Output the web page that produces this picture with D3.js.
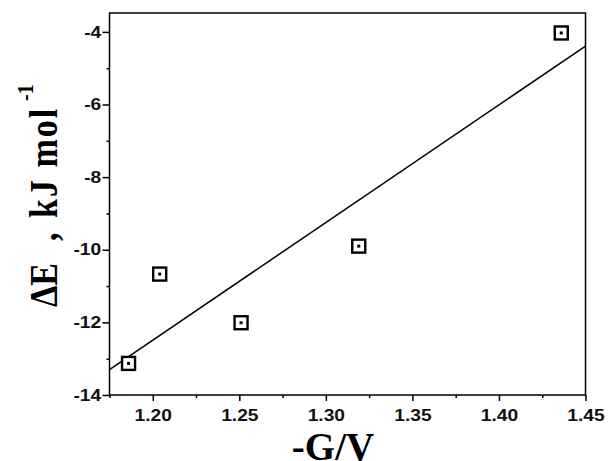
<!DOCTYPE html>
<html>
  <head>
    <meta charset="utf-8">
    <title>Energy vs potential</title>
    <script src="https://d3js.org/d3.v7.min.js"></script>
    <style>
      body { margin: 0; background-color: #fff; }
      .tick text { font-family: "Liberation Sans", Arial, sans-serif; font-weight: bold; }
      .domain { display: none; }
    </style>
  </head>
  <body>
    <div id="my_dataviz"></div>
    <script>
      // measured points
      var potential = [1.186, 1.204, 1.251, 1.319, 1.436];
      var energy = [-13.13, -10.67, -12.01, -9.90, -4.03];

      // straight fit line, end points
      var fitX = [1.175, 1.45];
      var fitY = [-13.30, -4.39];

      var xTicks = [1.20, 1.25, 1.30, 1.35, 1.40, 1.45];
      var xMinor = [1.175, 1.225, 1.275, 1.325, 1.375, 1.425];
      var yTicks = [-4, -6, -8, -10, -12, -14];
      var yMinor = [-5, -7, -9, -11, -13];

      var W = 608, H = 461;
      var plot = {left: 109.5, right: 585.5, top: 13, bottom: 395};
      var sx = 1.2; // labels in the source look a bit stretched sideways

      var svg = d3.select("#my_dataviz")
        .append("svg")
          .attr("width", W)
          .attr("height", H);

      var x = d3.scaleLinear()
        .domain([1.175, 1.45])
        .range([plot.left, plot.right]);

      var y = d3.scaleLinear()
        .domain([-14, -3.48])
        .range([plot.bottom, plot.top]);

      // minor ticks
      svg.append("g")
        .attr("transform", "translate(0," + plot.bottom + ")")
        .call(d3.axisBottom(x).tickValues(xMinor).tickSize(3).tickFormat(""))
        .selectAll("line").attr("stroke-width", 1.5);
      svg.append("g")
        .attr("transform", "translate(" + plot.left + ",0)")
        .call(d3.axisLeft(y).tickValues(yMinor).tickSize(3).tickFormat(""))
        .selectAll("line").attr("stroke-width", 1.5);

      // major ticks
      var xAxis = svg.append("g")
        .attr("transform", "translate(0," + plot.bottom + ")")
        .call(d3.axisBottom(x).tickValues(xTicks).tickSize(6).tickPadding(9).tickFormat(d3.format(".2f")));
      xAxis.selectAll("line").attr("stroke-width", 1.5);
      xAxis.selectAll("text")
        .attr("font-size", 16)
        .attr("fill", "#111")
        .attr("transform", "scale(" + sx + ",1)");

      var yAxis = svg.append("g")
        .attr("transform", "translate(" + plot.left + ",0)")
        .call(d3.axisLeft(y).tickValues(yTicks).tickSize(7).tickFormat(function(d) { return String(d); }));
      yAxis.selectAll("line").attr("stroke-width", 1.5);
      yAxis.selectAll("text")
        .attr("font-size", 16)
        .attr("fill", "#111")
        .attr("x", -8.3 / sx)
        .attr("transform", "scale(" + sx + ",1)");

      // frame
      svg.append("rect")
        .attr("x", plot.left)
        .attr("y", plot.top)
        .attr("width", plot.right - plot.left)
        .attr("height", plot.bottom - plot.top)
        .attr("fill", "none")
        .attr("stroke", "#000")
        .attr("stroke-width", 1.5);

      // fit line
      var line = d3.line()
        .x(function(d) { return x(d[0]); })
        .y(function(d) { return y(d[1]); });
      svg.append("path")
        .datum(d3.zip(fitX, fitY))
        .attr("d", line)
        .attr("fill", "none")
        .attr("stroke", "#000")
        .attr("stroke-width", 1.5);

      // markers: open square with a dot
      var pts = d3.zip(potential, energy);
      var m = svg.selectAll(".pt")
        .data(pts)
        .enter()
        .append("g")
          .attr("class", "pt")
          .attr("transform", function(d) { return "translate(" + x(d[0]) + "," + y(d[1]) + ")"; });
      m.append("rect")
        .attr("x", -6.5).attr("y", -6.5)
        .attr("width", 13).attr("height", 13)
        .attr("fill", "#fff")
        .attr("stroke", "#000")
        .attr("stroke-width", 2.4);
      m.append("rect")
        .attr("x", -1.5).attr("y", -1.5)
        .attr("width", 3).attr("height", 3)
        .attr("fill", "#000");

      // axis titles
      svg.append("text")
        .attr("x", 333)
        .attr("y", 460)
        .attr("text-anchor", "middle")
        .attr("font-family", "'Liberation Serif', 'Times New Roman', serif")
        .attr("font-weight", "bold")
        .attr("font-size", 39)
        .text("-G/V");

      var yt = svg.append("text")
        .attr("transform", "rotate(-90) scale(1," + sx + ")")
        .attr("font-family", "'Liberation Serif', 'Times New Roman', serif")
        .attr("font-weight", "bold")
        .attr("font-size", 34);
      yt.append("tspan").attr("x", -307).attr("y", 57 / sx).text("ΔE");
      yt.append("tspan").attr("x", -241).attr("y", 57 / sx).text(",");
      yt.append("tspan").attr("x", -218).attr("y", 57 / sx).attr("letter-spacing", 2).text("kJ mol");
      yt.append("tspan").attr("x", -101).attr("y", 33 / sx).attr("font-size", 20).text("-1");
    </script>
  </body>
</html>
